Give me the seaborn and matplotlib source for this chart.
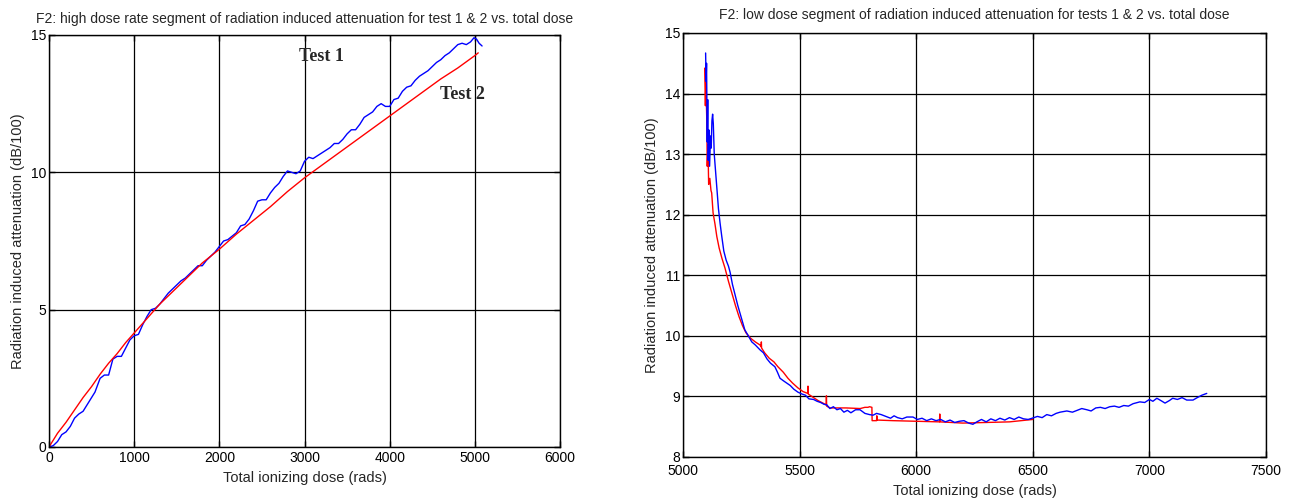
import matplotlib
matplotlib.use("Agg")
import matplotlib.pyplot as plt
import seaborn as sns
import pandas as pd

# High dose rate segment (Test 1 and Test 2)
hi_t1_dose = [0, 50, 100, 150, 200, 250, 300, 350, 400, 450, 500, 540, 600, 650, 700,
              750, 800, 850, 900, 950, 1000, 1050, 1100, 1150, 1200, 1250, 1300, 1400,
              1500, 1550, 1600, 1700, 1750, 1800, 1850, 1900, 1950, 2000, 2050, 2100,
              2200, 2250, 2300, 2350, 2400, 2450, 2500, 2550, 2600, 2650, 2700, 2750,
              2800, 2850, 2900, 2950, 3000, 3050, 3100, 3150, 3200, 3300, 3350, 3400,
              3450, 3500, 3550, 3600, 3650, 3700, 3750, 3800, 3850, 3900, 3950, 4000,
              4050, 4100, 4150, 4200, 4250, 4300, 4350, 4400, 4450, 4500, 4550, 4600,
              4650, 4700, 4750, 4800, 4850, 4900, 4950, 4990, 5020, 5050, 5085]
hi_t1_att = [0.0, 0.05, 0.2, 0.45, 0.55, 0.75, 1.05, 1.2, 1.3, 1.55, 1.8, 2.0, 2.5, 2.62,
             2.62, 3.2, 3.3, 3.3, 3.6, 3.9, 4.05, 4.1, 4.45, 4.75, 5.0, 5.05, 5.2, 5.6,
             5.9, 6.05, 6.15, 6.45, 6.6, 6.6, 6.8, 6.95, 7.1, 7.3, 7.5, 7.55,
             7.8, 8.05, 8.1, 8.3, 8.6, 8.95, 9.0, 9.0, 9.25, 9.45, 9.6, 9.85,
             10.05, 10.0, 9.95, 10.05, 10.4, 10.55, 10.5, 10.6, 10.7, 10.9, 11.05, 11.05,
             11.2, 11.4, 11.55, 11.55, 11.75, 12.0, 12.1, 12.2, 12.4, 12.5, 12.4, 12.4,
             12.65, 12.7, 12.95, 13.1, 13.15, 13.35, 13.5, 13.6, 13.7, 13.85, 14.0, 14.1,
             14.25, 14.35, 14.5, 14.65, 14.7, 14.65, 14.75, 14.9, 14.85, 14.7, 14.6]

hi_t2_dose = [0, 100, 200, 300, 400, 500, 600, 700, 800, 900, 1000, 1100, 1200, 1300,
              1400, 1500, 1600, 1700, 1800, 1900, 2000, 2200, 2400, 2600, 2800, 3000,
              3200, 3400, 3600, 3800, 4000, 4200, 4400, 4600, 4800, 5000, 5040]
hi_t2_att = [0.0, 0.5, 0.9, 1.35, 1.8, 2.2, 2.65, 3.05, 3.4, 3.8, 4.15, 4.5, 4.85, 5.2,
             5.5, 5.8, 6.1, 6.4, 6.7, 6.95, 7.2, 7.75, 8.25, 8.75, 9.3, 9.8,
             10.25, 10.7, 11.15, 11.6, 12.05, 12.5, 12.95, 13.4, 13.8, 14.25, 14.35]

# Low dose segment (Test 1 and Test 2)
lo_t1_dose = [5097, 5099, 5101, 5104, 5106, 5108, 5111, 5114, 5118, 5121, 5124, 5127,
              5130, 5134, 5138, 5141, 5147, 5152, 5159, 5166, 5175, 5185, 5195, 5202,
              5212, 5222, 5235, 5250, 5265, 5280, 5295, 5310, 5330, 5345, 5360, 5375,
              5394, 5405, 5416, 5430, 5445, 5460, 5475, 5493, 5510, 5525, 5540, 5560,
              5575, 5590, 5605, 5617, 5630, 5645, 5660, 5675, 5690, 5705, 5720, 5740,
              5759, 5780, 5800, 5815, 5830, 5850, 5870, 5890, 5905, 5920, 5940, 5960,
              5986, 6005, 6025, 6045, 6065, 6085, 6105, 6125, 6145, 6165, 6185, 6205,
              6225, 6243, 6260, 6280, 6300, 6320, 6340, 6359, 6380, 6400, 6420, 6440,
              6460, 6480, 6497, 6520, 6540, 6560, 6580, 6600, 6617, 6646, 6670, 6690,
              6710, 6732, 6750, 6770, 6790, 6810, 6830, 6850, 6870, 6890, 6910, 6930,
              6959, 6980, 7000, 7015, 7032, 7050, 7067, 7085, 7100, 7120, 7140, 7160,
              7187, 7205, 7225, 7246]
lo_t1_att = [14.67, 14.2, 14.5, 13.2, 13.9, 12.9, 13.4, 12.8, 13.3, 13.1, 13.55, 13.66,
             13.5, 13.0, 12.8, 12.65, 12.35, 12.1, 11.86, 11.65, 11.4, 11.25, 11.15, 11.05,
             10.85, 10.7, 10.5, 10.3, 10.1, 10.0, 9.9, 9.85, 9.77, 9.72, 9.62, 9.55,
             9.49, 9.40, 9.30, 9.26, 9.22, 9.18, 9.12, 9.07, 9.04, 9.02, 8.96, 8.95,
             8.92, 8.90, 8.87, 8.86, 8.80, 8.83, 8.78, 8.80, 8.74, 8.77, 8.73, 8.78,
             8.78, 8.72, 8.70, 8.69, 8.72, 8.70, 8.67, 8.64, 8.68, 8.65, 8.63, 8.66,
             8.66, 8.62, 8.64, 8.60, 8.63, 8.60, 8.62, 8.58, 8.61, 8.57, 8.59, 8.60,
             8.56, 8.54, 8.58, 8.62, 8.58, 8.63, 8.60, 8.64, 8.61, 8.65, 8.62, 8.66,
             8.63, 8.62, 8.64, 8.67, 8.65, 8.70, 8.68, 8.72, 8.74, 8.76, 8.74, 8.77,
             8.80, 8.78, 8.76, 8.81, 8.82, 8.80, 8.83, 8.84, 8.82, 8.85, 8.84, 8.88,
             8.91, 8.90, 8.95, 8.92, 8.97, 8.93, 8.89, 8.93, 8.97, 8.95, 8.98, 8.94,
             8.94, 8.98, 9.02, 9.05]

lo_t2_dose = [5093, 5096, 5098, 5102, 5104, 5107, 5110, 5115, 5120, 5123, 5129, 5137,
              5145, 5155, 5167, 5180, 5195, 5210, 5225, 5240, 5255, 5270, 5290, 5310,
              5330, 5335, 5336, 5337, 5350, 5370, 5390, 5407, 5430, 5450, 5470, 5493,
              5515, 5535, 5536, 5537, 5560, 5580, 5600, 5614, 5615, 5616, 5630, 5700,
              5760, 5780, 5793, 5800, 5810, 5811, 5830, 5831, 5832, 5900, 6000, 6100,
              6101, 6102, 6200, 6300, 6400, 6500]
lo_t2_att = [14.42, 13.8, 14.2, 13.56, 12.8, 13.15, 12.5, 12.6, 12.4, 12.36, 12.03, 11.85,
             11.64, 11.45, 11.28, 11.12, 10.9, 10.7, 10.5, 10.32, 10.17, 10.05, 9.96, 9.9,
             9.85, 9.82, 9.90, 9.80, 9.72, 9.63, 9.57, 9.49, 9.40, 9.30, 9.22, 9.14,
             9.08, 9.05, 9.17, 9.04, 8.98, 8.93, 8.89, 8.86, 9.01, 8.84, 8.81, 8.81,
             8.80, 8.82, 8.82, 8.83, 8.82, 8.60, 8.60, 8.68, 8.61, 8.60, 8.59, 8.58,
             8.71, 8.58, 8.56, 8.57, 8.58, 8.62]

hi_xticks = [0, 1000, 2000, 3000, 4000, 5000, 6000]
hi_yticks = [0, 5, 10, 15]
lo_xticks = [5000, 5500, 6000, 6500, 7000, 7500]
lo_yticks = [8, 9, 10, 11, 12, 13, 14, 15]

sns.set_style("white")
plt.rcParams["font.family"] = ["Liberation Sans", "DejaVu Sans"]
plt.rcParams["axes.linewidth"] = 1.0

fig = plt.figure(figsize=(12.94, 5.04), dpi=100)
ax1 = fig.add_axes([49 / 1294, 1 - 447 / 504, 511 / 1294, 412 / 504])
ax2 = fig.add_axes([683 / 1294, 1 - 457 / 504, 583 / 1294, 424 / 504])


def draw(ax, dose, att, color):
    df = pd.DataFrame({"dose": dose, "att": att})
    sns.lineplot(data=df, x="dose", y="att", color=color, lw=1.0, sort=False,
                 estimator=None, ax=ax)


draw(ax1, hi_t1_dose, hi_t1_att, "#0000ff")
draw(ax1, hi_t2_dose, hi_t2_att, "#ff0000")
draw(ax2, lo_t2_dose, lo_t2_att, "#ff0000")
draw(ax2, lo_t1_dose, lo_t1_att, "#0000ff")

for ax, xt, yt, xpad, lpad in [(ax1, hi_xticks, hi_yticks, 3, 4),
                               (ax2, lo_xticks, lo_yticks, 5, 4)]:
    ax.set_xlim(xt[0], xt[-1])
    ax.set_ylim(yt[0], yt[-1])
    ax.set_xticks(xt)
    ax.set_yticks(yt)
    ax.grid(True, color="black", lw=0.9)
    ax.set_axisbelow(True)
    ax.tick_params(direction="in", length=4, width=1, labelsize=10, pad=2,
                   top=True, right=True, bottom=True, left=True, colors="black")
    ax.tick_params(axis="x", pad=xpad)
    for s in ax.spines.values():
        s.set_color("black")
        s.set_visible(True)
    ax.set_xlabel("Total ionizing dose (rads)", fontsize=10.5, labelpad=lpad)
    ax.set_ylabel("Radiation induced attenuation (dB/100)", fontsize=10.5, labelpad=4)

ax1.set_title("F2: high dose rate segment of radiation induced attenuation for test 1 & 2 vs. total dose",
              fontsize=10, pad=9)
ax2.set_title("F2: low dose segment of radiation induced attenuation for tests 1 & 2 vs. total dose",
              fontsize=10, pad=10)

ax1.text(3200, 14.2, "Test 1", fontsize=13, fontweight="bold",
         family=["Liberation Serif", "DejaVu Serif"], ha="center", va="center")
ax1.text(4850, 12.85, "Test 2", fontsize=13, fontweight="bold",
         family=["Liberation Serif", "DejaVu Serif"], ha="center", va="center")

fig.savefig("out.png", dpi=100, facecolor="white")
